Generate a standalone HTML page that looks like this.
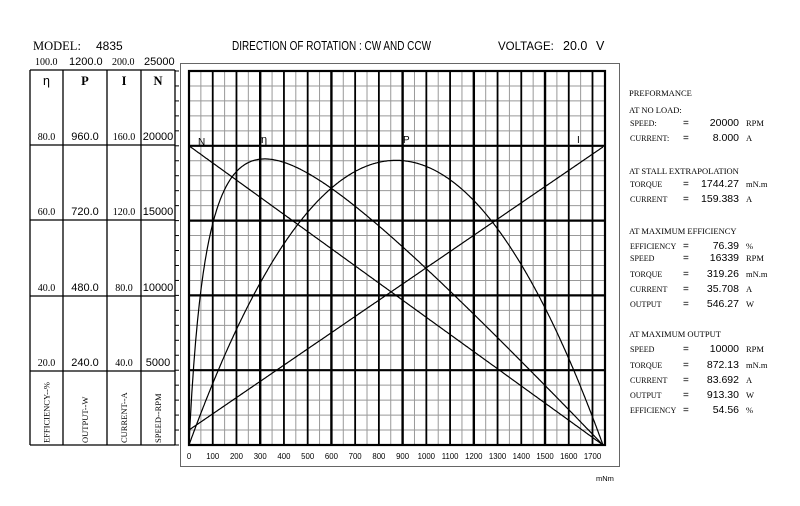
<!DOCTYPE html>
<html><head><meta charset="utf-8"><style>
body{margin:0;background:#fff;}
svg{display:block;font-family:"Liberation Serif",serif;}
.s{font-family:"Liberation Sans",sans-serif;}
</style></head><body>
<svg id="c" width="800" height="506" viewBox="0 0 800 506" xmlns="http://www.w3.org/2000/svg">
<rect x="0" y="0" width="800" height="506" fill="#fff"/>
<text x="33" y="50" font-size="12.5">MODEL:</text>
<text x="96" y="50" font-size="12" class="s">4835</text>
<text x="232" y="50" font-size="12.5" class="s" textLength="199" lengthAdjust="spacingAndGlyphs">DIRECTION OF ROTATION : CW AND CCW</text>
<text x="498" y="50" font-size="11.5" class="s">VOLTAGE:</text>
<text x="563" y="50" font-size="12.5" class="s">20.0</text>
<text x="596" y="50" font-size="12.5" class="s">V</text>
<text x="35" y="65" font-size="10">100.0</text>
<text x="69" y="65" font-size="11" class="s">1200.0</text>
<text x="112" y="65" font-size="10">200.0</text>
<text x="144" y="65" font-size="11" class="s">25000</text>
<g id="g"></g>
</svg>
<script>
var g=document.getElementById('g'),NS='http://www.w3.org/2000/svg';
function el(t,a,txt){var e=document.createElementNS(NS,t);for(var k in a)e.setAttribute(k,a[k]);if(txt!=null)e.textContent=txt;g.appendChild(e);return e;}
function line(x1,y1,x2,y2,c,w){el('line',{x1:x1,y1:y1,x2:x2,y2:y2,stroke:c,'stroke-width':w});}
el('rect',{x:180.5,y:63.5,width:439,height:403,fill:'none',stroke:'#666','stroke-width':1});
var L=189,T=71,B=445,R=605,sx=(603-189)/1744.27,ypx=374;
for(var i=1;i<25;i++){if(i%5)line(L,B-i*ypx/25,R,B-i*ypx/25,'#999',1);}
for(var v=50;v<1750;v+=100){var x=L+v*sx;line(x,T,x,B,'#999',1);}
for(var v=100;v<1750;v+=100){var x=L+v*sx;line(x,T,x,B,'#000',(v%300==0)?2.4:1.8);}
for(var i=1;i<5;i++){var y=B-i*ypx/5;line(L,y,R,y,'#000',2.2);}
el('rect',{x:L,y:T,width:R-L,height:B-T,fill:'none',stroke:'#000','stroke-width':2.2});
for(var v=0;v<=1700;v+=100){el('text',{x:L+v*sx,y:459,'font-size':7.8,'text-anchor':'middle','font-family':'Liberation Sans,sans-serif'},v);}
el('text',{x:596,y:481,'font-size':7.5,'font-family':'Liberation Sans,sans-serif'},'mNm');
var cols=[30,63,107,141,175];
cols.forEach(function(x){line(x,70,x,445,'#000',1.3);});
[70,145,220,296,371,445].forEach(function(y){line(30,y,175,y,'#000',1.3);});
for(var i=0;i<=25;i++){var y=B-i*ypx/25;line(175,y,179,y,'#000',1);}
var vals=[['80.0','960.0','160.0','20000'],['60.0','720.0','120.0','15000'],['40.0','480.0','80.0','10000'],['20.0','240.0','40.0','5000']];
var rb=[145,220,296,371];
var cx=[46.5,85,124,158];
vals.forEach(function(r,j){r.forEach(function(t,k){el('text',{x:cx[k],y:rb[j]-5,'font-size':(k==0||k==2)?10:11,'text-anchor':'middle','font-family':(k==0||k==2)?'Liberation Serif,serif':'Liberation Sans,sans-serif'},t);});});
['η','P','I','N'].forEach(function(t,k){el('text',{x:cx[k],y:85,'font-size':12.5,'text-anchor':'middle','font-family':k==0?'Liberation Sans,sans-serif':'Liberation Serif,serif','font-weight':k?'bold':'normal'},t);});
['EFFICIENCY--%','OUTPUT--W','CURRENT--A','SPEED--RPM'].forEach(function(t,k){el('text',{x:0,y:0,'font-size':8.5,transform:'translate('+(cx[k]+3)+',443) rotate(-90)'},t);});
function X(t){return L+t*sx;}
var Ts=1744.27;
function n(t){return 20000*(1-t/Ts);} function I(t){return 8+t*151.383/Ts;}
function P(t){return t/1000*n(t)*2*Math.PI/60;}
var pN='',pI='',pP='',pE='';
for(var t=0;t<=Ts+3;t+=4){var tt=Math.min(t,Ts);var c=pN?'L':'M';
pN+=c+X(tt).toFixed(1)+','+(B-n(tt)/25000*ypx).toFixed(1);
pI+=c+X(tt).toFixed(1)+','+(B-I(tt)/200*ypx).toFixed(1);
pP+=c+X(tt).toFixed(1)+','+(B-P(tt)/1200*ypx).toFixed(1);
pE+=c+X(tt).toFixed(1)+','+(B-P(tt)/(20*I(tt))*ypx).toFixed(1);}
[pN,pI,pP,pE].forEach(function(d){el('path',{d:d,fill:'none',stroke:'#000','stroke-width':1.2});});
el('text',{x:198,y:145,'font-size':10,'font-family':'Liberation Sans,sans-serif'},'N');
el('text',{x:261,y:143,'font-size':11,'font-family':'Liberation Sans,sans-serif'},'η');
el('text',{x:403,y:143,'font-size':10,'font-family':'Liberation Sans,sans-serif'},'P');
el('text',{x:577,y:143,'font-size':10,'font-family':'Liberation Sans,sans-serif'},'I');
var rp=[['PREFORMANCE',92],['AT NO LOAD:',109],['AT STALL EXTRAPOLATION',170],['AT MAXIMUM EFFICIENCY',230],['AT MAXIMUM OUTPUT',333]];
rp.forEach(function(r){el('text',{x:629,y:r[1]+4,'font-size':8.5},r[0]);});
var rows=[['SPEED:',122,'20000','RPM'],['CURRENT:',137,'8.000','A'],['TORQUE',183,'1744.27','mN.m'],['CURRENT',198,'159.383','A'],
['EFFICIENCY',245,'76.39','%'],['SPEED',257,'16339','RPM'],['TORQUE',273,'319.26','mN.m'],['CURRENT',288,'35.708','A'],['OUTPUT',303,'546.27','W'],
['SPEED',348,'10000','RPM'],['TORQUE',364,'872.13','mN.m'],['CURRENT',379,'83.692','A'],['OUTPUT',394,'913.30','W'],['EFFICIENCY',409,'54.56','%']];
rows.forEach(function(r){var y=r[1]+4;el('text',{x:630,y:y,'font-size':8},r[0]);el('text',{x:683,y:y,'font-size':10,'font-family':'Liberation Sans,sans-serif'},'=');
el('text',{x:739,y:y,'font-size':10.5,'text-anchor':'end','font-family':'Liberation Sans,sans-serif'},r[2]);el('text',{x:746,y:y,'font-size':8.5},r[3]);});
</script>
</body></html>
